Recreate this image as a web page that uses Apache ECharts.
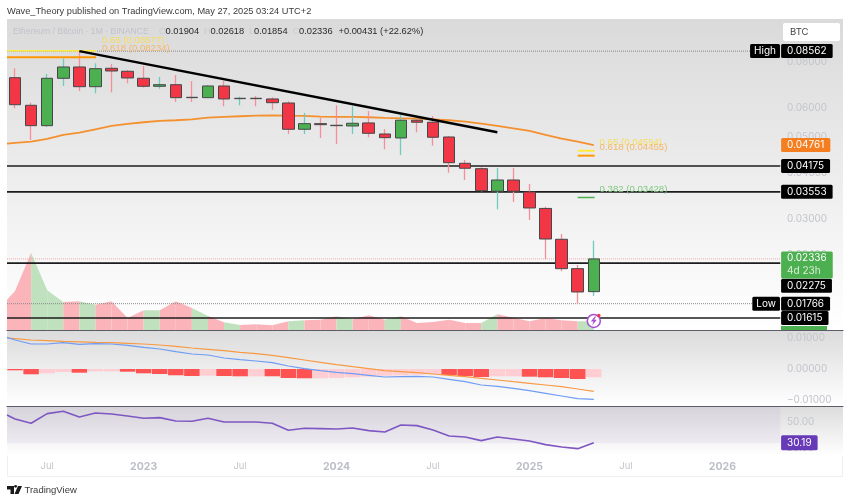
<!DOCTYPE html>
<html><head><meta charset="utf-8">
<style>html,body{margin:0;padding:0;background:#fff}#c{width:850px;height:502px}</style>
<script src="https://cdn.jsdelivr.net/npm/echarts@6/dist/echarts.min.js"></script>
</head><body><div id="c"></div>
<script>
const months = ["2022-05","2022-06","2022-07","2022-08","2022-09","2022-10","2022-11","2022-12","2023-01","2023-02","2023-03","2023-04","2023-05","2023-06","2023-07","2023-08","2023-09","2023-10","2023-11","2023-12","2024-01","2024-02","2024-03","2024-04","2024-05","2024-06","2024-07","2024-08","2024-09","2024-10","2024-11","2024-12","2025-01","2025-02","2025-03","2025-04","2025-05","2025-06","2025-07","2025-08","2025-09","2025-10","2025-11","2025-12","2026-01","2026-02","2026-03","2026-04","2026-05","2026-06","2026-07","2026-08"];
const opens = [.07252,.06103,.05373,.07225,.07754,.06856,.07691,.07548,.07225,.06873,.06941,.06416,.06401,.06886,.06361,.06376,.06349,.06191,.05253,.05441,.05386,.05363,.05465,.05101,.04975,.05558,.05489,.05006,.04247,.04106,.03566,.03826,.03550,.03203,.02641,.02198,.01904];
const closes = [.06126,.05373,.07225,.07754,.06856,.07672,.07562,.07239,.06873,.06941,.06401,.06401,.06886,.06349,.06376,.06361,.06203,.05253,.05441,.05406,.05373,.05454,.05123,.04985,.05558,.05489,.04997,.04263,.04117,.03579,.03826,.03566,.03212,.02646,.02198,.01900,.02336];
const highs = [.07691,.06203,.07422,.08187,.08562,.07935,.0790,.0761,.07802,.07284,.07376,.07104,.06929,.07104,.06440,.06469,.06416,.06258,.05817,.05638,.06103,.06065,.05889,.05253,.05744,.05626,.05709,.05037,.04336,.04142,.04125,.04125,.03732,.03238,.02730,.02250,.02618];
const lows = [.05990,.04914,.05329,.06886,.06674,.06578,.06619,.07003,.06813,.06770,.06230,.06230,.0639,.06065,.06103,.06065,.05938,.05101,.05101,.04975,.04791,.05101,.04997,.04636,.04474,.05156,.04741,.04005,.03826,.03560,.03186,.03335,.02980,.02331,.02162,.01766,.01854];
const ema = [.04822,.04862,.04944,.05069,.05142,.05253,.05363,.05430,.05489,.05533,.05558,.05592,.05648,.05673,.05698,.05719,.05733,.05719,.05709,.05683,.05673,.05673,.05663,.05638,.05626,.05613,.05592,.05558,.05509,.05441,.05363,.05286,.05198,.05069,.04954,.04862,.04761];
const emaStart = .04800;
const volumes = [39,77.3,39.7,28,28.7,25.3,28.7,12,19.7,19.7,28.7,22,14,7.7,5,5.7,4.7,8.7,9.7,10.3,13.7,10.7,14.7,10.3,13.7,7,8,10.3,7,7,15.7,12.3,8.7,12,9.7,8.7,8.7];
const volumeStart = 30.3;
const macdHist = [-.00042,-.00171,-.00139,-.00097,-.00119,-.00074,-.00074,-.00087,-.00139,-.00161,-.00203,-.00226,-.00216,-.00226,-.00235,-.00235,-.00235,-.00290,-.00300,-.00300,-.00290,-.00268,-.00248,-.00216,-.00203,-.00184,-.00161,-.00194,-.00226,-.00258,-.00235,-.00235,-.00248,-.00268,-.00290,-.00323,-.00268];
const macdStrong = [1,1,0,0,1,0,0,1,1,1,1,1,0,1,1,0,1,1,1,0,0,0,0,0,0,0,0,1,1,1,0,0,1,1,1,1,0];
const macdLine = [.00935,.00806,.00806,.00849,.00796,.00817,.00806,.00763,.00699,.00645,.00559,.00484,.00452,.00355,.00301,.00258,.00204,.00097,.00011,-.00054,-.00108,-.00151,-.00204,-.00258,-.00247,-.00237,-.00258,-.00333,-.00409,-.00516,-.00559,-.00624,-.00699,-.00785,-.00871,-.00957,-.00978];
const macdStart = .01021;
const signalLine = [.00978,.00935,.00914,.00892,.00876,.00860,.00849,.00828,.00806,.00774,.00731,.00677,.00634,.00591,.00538,.00495,.00441,.00366,.00290,.00215,.00140,.00075,.00011,-.00054,-.00086,-.00118,-.00161,-.00204,-.00247,-.00301,-.00355,-.00409,-.00462,-.00516,-.00570,-.00645,-.00720];
const signalStart = .01000;
const rsi = [52.86,48.73,57.94,60.16,54.76,58.57,57.62,55.71,53.49,54.13,50.95,50.63,53.49,50,50,50,48.73,42.06,43.97,43.65,43.33,44.29,41.75,40.48,47.14,46.51,42.38,36.67,35.71,32.22,35.71,33.81,31.90,28.41,26.19,24.60,30.19];
const rsiStart = 56.67;
const priceTicks = [.08,.06,.05,.04,.03,.024,.02];
const macdTicks = [.01,0,-.01];
const rsiTicks = [50,25];
const supportLevels = [.04175,.03553,.02275,.01615];
const athLevel = .08562, lowLevel = .01766, lastPrice = .02336, emaLast = .04761;
const fibLeft = [{t:"0.65 (0.08577)",v:.08577},{t:"0.618 (0.08234)",v:.08234}];
const fibRight = [{t:"0.65 (0.04594)",v:.04594},{t:"0.618 (0.04455)",v:.04455},{t:"0.382 (0.03428)",v:.03428}];
const trend = [[4,.08562],[30,.05156]];
const headerText = "Wave_Theory published on TradingView.com, May 27, 2025 03:24 UTC+2";
const symbolText = "Ethereum / Bitcoin · 1M · BINANCE";
const ohlcText = ["0.01904","0.02618","0.01854","0.02336"];
const changeText = "+0.00431 (+22.62%)";

const FONT = '"Liberation Sans", Arial, sans-serif';
const AX = 'Inter, "Liberation Sans", sans-serif';
const L = -0.5, SCALE = 47.6, R = 51.5;
const AXC = '#c3c5cb';
const grad = (a,b)=>({type:'linear',x:0,y:0,x2:0,y2:1,colorStops:[{offset:0,color:a},{offset:1,color:b}]});
const chart = echarts.init(document.getElementById('c'),null,{renderer:'canvas'});

const commonOver = {type:'value',min:L,max:R,show:false,splitLine:{show:false}};
const paneLine = {show:true,onZero:false,lineStyle:{color:'#5c5c66',width:1.2}};
function seg(name,pts,color,width,type,extra){
  return Object.assign({type:'line',name,xAxisIndex:1,yAxisIndex:0,symbol:'none',silent:true,animation:false,z:4,
    lineStyle:{color,width,type:type||'solid'},data:pts},extra||{});
}
function tag(v,text,bg,o){
  o=o||{};
  return {value:[o.left?SCALE-0.02:SCALE+0.05,v],label:Object.assign({show:true,formatter:text,position:o.left?'left':'right',distance:0,
     backgroundColor:bg,color:'#fff',fontFamily:AX,fontSize:o.fs||10,lineHeight:11,padding:o.pad||[1.5,6],borderRadius:1.5},o.label||{})};
}
const series = [];
// volume
series.push({type:'custom',name:'Volume',xAxisIndex:1,yAxisIndex:1,z:1,silent:true,clip:true,animation:false,
  data:volumes.map((v,i)=>[i===0?L:i-1,i===0?volumeStart:volumes[i-1],i,v,closes[i]>=opens[i]?1:0]),
  encode:{x:[0,2],y:[1,3]},
  renderItem:(p,api)=>{
    const x0=api.value(0),v0=api.value(1),x1=api.value(2),v1=api.value(3),up=api.value(4);
    const a=api.coord([x0,0]),b=api.coord([x0,v0]),c=api.coord([x1,v1]),d=api.coord([x1,0]);
    return {type:'polygon',shape:{points:[a,b,c,d]},style:{fill:up?'#bfe1bd':'#fbb4ba'}};
  }});
// horizontal levels
supportLevels.forEach(v=>series.push(seg('Level',[[L,v],[SCALE,v]],'#1c1c1c',1.6)));
series.push(seg('High',[[L,athLevel],[SCALE,athLevel]],'#8a8a8a',1,'dotted'));
series.push(seg('Low',[[L,lowLevel],[SCALE,lowLevel]],'#8a8a8a',1,'dotted'));
series.push(seg('Last',[[L,lastPrice],[SCALE,lastPrice]],'#eeaaaa',1,'dotted'));
// EMA
series.push(seg('EMA',[[L,emaStart]].concat(ema.map((v,i)=>[i,v])),'#f5902f',1.8,null,{z:5}));
// wicks + bodies
series.push({type:'candlestick',name:'Wicks',xAxisIndex:0,yAxisIndex:0,barWidth:1,z:5,silent:true,animation:false,
  itemStyle:{color:'#6fcbbb',color0:'#f78f9a',borderColor:'#6fcbbb',borderColor0:'#f78f9a',borderWidth:1.3},
  data:opens.map((o,i)=>[o,closes[i],lows[i],highs[i]])});
series.push({type:'candlestick',name:'Bodies',xAxisIndex:0,yAxisIndex:0,barWidth:12,z:6,silent:true,animation:false,
  itemStyle:{color:'#4caf50',color0:'#f23645',borderColor:'#45484a',borderColor0:'#45484a',borderWidth:1},
  data:opens.map((o,i)=>[o,closes[i],Math.min(o,closes[i]),Math.max(o,closes[i])])});
// trend
series.push(seg('Trend',trend,'#000',2.5,null,{z:7}));
// fib
const fibColors={"0.65":'#ffeb3b',"0.618":'#ff9800',"0.382":'#4caf50'};
const fibText={"0.65":'#f7dc5c',"0.618":'#f6b868',"0.382":'#7fc981'};
fibLeft.forEach(f=>{const k=f.t.split(' ')[0];
  series.push(seg('Fib',[[L,f.v],[5.04,f.v]],fibColors[k],k==='0.618'?2:1.5,null,{z:6}));});
fibRight.forEach(f=>{const k=f.t.split(' ')[0];
  series.push(seg('Fib',[[35,f.v],[36.05,f.v]],fibColors[k],k==='0.382'?1.5:2,null,{z:6}));});
const fibLabel=(x,f,dist,dy)=>({value:[x,f.v],label:{show:true,position:'right',distance:dist,offset:[0,dy],formatter:f.t,color:fibText[f.t.split(' ')[0]],fontFamily:FONT,fontSize:9.6}});
series.push({type:'scatter',name:'FibLabels',xAxisIndex:1,yAxisIndex:0,symbolSize:0,z:8,silent:true,animation:false,itemStyle:{opacity:1},
  data:[fibLabel(5.04,fibLeft[0],6,-10),fibLabel(5.04,fibLeft[1],6,-9.4)].concat(fibRight.map(f=>fibLabel(36.05,f,5,-8.4)))});
// price tags
series.push({type:'scatter',name:'Tags',xAxisIndex:1,yAxisIndex:0,symbolSize:0,z:10,silent:true,animation:false,clip:false,itemStyle:{opacity:1},
  data:[
    tag(athLevel,'0.08562','#000'),
    tag(athLevel,'High','#000',{left:true,pad:[1.5,4]}),
    tag(emaLast,'0.04761','#f57f20'),
    tag(.04175,'0.04175','#000'),
    tag(.03553,'0.03553','#000'),
    tag(.02275,'0.02275','#000',{label:{offset:[0,22.6]}}),
    tag(lastPrice,'{a|0.02336}\n{b|4d 23h}','#4caf50',{pad:[0,6,1,6],label:{offset:[0,6.2],rich:{a:{color:'#fff',fontFamily:AX,fontSize:10,lineHeight:13},b:{color:'#d7eed8',fontFamily:AX,fontSize:10,lineHeight:13}}}}),
    tag(lowLevel,'0.01766','#000'),
    tag(lowLevel,'Low','#000',{left:true,pad:[1.5,4]}),
    tag(.01615,'0.01615','#000')
  ]});
// news mark
series.push({type:'scatter',name:'Mark',xAxisIndex:1,yAxisIndex:0,z:11,silent:true,animation:false,symbol:'circle',symbolSize:13,
  itemStyle:{color:'#fff',borderColor:'#a84fd0',borderWidth:1.5,opacity:1},data:[[36,.01585]]});
series.push({type:'scatter',name:'Bolt',xAxisIndex:1,yAxisIndex:0,z:12,silent:true,animation:false,symbol:'path://M6 0L0 9h4l-2 7 7-10H5l3-6z',symbolSize:[6,9],
  itemStyle:{color:'#a84fd0',opacity:1},data:[[36,.01585]]});
series.push({type:'scatter',name:'Dot',xAxisIndex:1,yAxisIndex:0,z:13,silent:true,animation:false,symbol:'circle',symbolSize:3.5,symbolOffset:[5,-5.5],
  itemStyle:{color:'#f23645',opacity:1},data:[[36,.01585]]});
// MACD
series.push({type:'bar',name:'Hist',xAxisIndex:2,yAxisIndex:2,barWidth:15.5,z:2,silent:true,animation:false,
  data:macdHist.map((v,i)=>({value:v,itemStyle:{color:macdStrong[i]?'#ff5252':'#ffcdd2'}}))});
series.push({type:'line',name:'Signal',xAxisIndex:3,yAxisIndex:2,symbol:'none',z:3,silent:true,animation:false,lineStyle:{color:'#f79a45',width:1.2},
  data:[[L,signalStart]].concat(signalLine.map((v,i)=>[i,v]))});
series.push({type:'line',name:'MACD',xAxisIndex:3,yAxisIndex:2,symbol:'none',z:3,silent:true,animation:false,lineStyle:{color:'#6f9cf5',width:1.2},
  data:[[L,macdStart]].concat(macdLine.map((v,i)=>[i,v]))});
// RSI
series.push({type:'line',name:'RSI',xAxisIndex:5,yAxisIndex:3,symbol:'none',z:3,silent:true,animation:false,lineStyle:{color:'#7e57c2',width:1.6},
  data:[[L,rsiStart]].concat(rsi.map((v,i)=>[i,v])),
  markArea:{silent:true,itemStyle:{color:'rgba(126,87,194,0.07)'},data:[[{xAxis:L,yAxis:70},{xAxis:SCALE,yAxis:30}]]}});
series.push({type:'scatter',name:'RSITag',xAxisIndex:5,yAxisIndex:3,symbolSize:0,z:10,silent:true,animation:false,clip:false,itemStyle:{opacity:1},
  data:[{value:[SCALE+0.05,rsi[rsi.length-1]],label:{show:true,formatter:rsi[rsi.length-1].toFixed(2),position:'right',distance:0,backgroundColor:'#673ab7',color:'#fff',fontFamily:AX,fontSize:10,lineHeight:11,padding:[2,6],borderRadius:1.5}}]});

const logoDot = {type:'circle',z:21,shape:{cx:15.6,cy:486.3,r:1.4},style:{fill:'#1a1a1a'},silent:true};
const option = {
  backgroundColor:'#fff',animation:false,
  grid:[
    {left:7,width:836,top:19,height:311,show:true,borderWidth:0,backgroundColor:grad('#dadada','#ffffff')},
    {left:7,width:836,top:330,height:76,show:true,borderWidth:0,backgroundColor:grad('#dbdbdb','#ffffff')},
    {left:7,width:836,top:406,height:50,show:true,borderWidth:0,backgroundColor:grad('#dcdcdc','#ffffff')}
  ],
  xAxis:[
    {type:'category',gridIndex:0,data:months,axisLine:paneLine,axisTick:{show:false},axisLabel:{show:false}},
    Object.assign({gridIndex:0},commonOver),
    {type:'category',gridIndex:1,data:months,axisLine:paneLine,axisTick:{show:false},axisLabel:{show:false}},
    Object.assign({gridIndex:1},commonOver),
    {type:'category',gridIndex:2,data:months,axisLine:{show:false},axisTick:{show:false},
      axisLabel:{show:true,margin:5,interval:(i,v)=>i<48&&/-(01|07)$/.test(v),
        formatter:v=>v.endsWith('-01')?`{y|${v.slice(0,4)}}`:`{m|Jul}`,
        rich:{y:{color:'#bcbec6',fontFamily:AX,fontWeight:'bold',fontSize:10.5},m:{color:'#c3c5cb',fontFamily:AX,fontSize:9.5}}}},
    Object.assign({gridIndex:2},commonOver)
  ],
  yAxis:[
    {type:'log',gridIndex:0,position:'right',offset:-63,min:.01498,max:.10466,splitLine:{show:false},axisLine:{show:false},axisTick:{show:false},
      axisLabel:{customValues:priceTicks,color:AXC,fontFamily:AX,fontSize:10,margin:7,formatter:v=>(+v).toFixed(5)}},
    {type:'value',gridIndex:0,min:0,max:311,show:false,splitLine:{show:false}},
    {type:'value',gridIndex:1,position:'right',offset:-63,min:-.01194,max:.01258,splitLine:{show:false},axisLine:{show:false},axisTick:{show:false},
      axisLabel:{customValues:macdTicks,color:AXC,fontFamily:AX,fontSize:10,margin:7,formatter:v=>(+v===0?'0.00000':(+v<0?'\u2212':'')+Math.abs(+v).toFixed(5))}},
    {type:'value',gridIndex:2,position:'right',offset:-63,min:17.6,max:65.2,splitLine:{show:false},axisLine:{show:false},axisTick:{show:false},
      axisLabel:{customValues:rsiTicks,color:AXC,fontFamily:AX,fontSize:10,margin:7,formatter:v=>(+v).toFixed(2)}}
  ],
  series,
  graphic:[
    {type:'rect',z:-1,shape:{x:7.5,y:19.5,width:835,height:457},style:{fill:'none',stroke:'#eeeeee',lineWidth:1},silent:true},
    {type:'rect',z:20,shape:{x:783,y:23,width:57,height:18,r:2},style:{fill:'#fff'},silent:true},
    {type:'text',z:21,style:{x:790,y:32,text:'BTC',fill:'#444',font:'9.5px '+AX,textVerticalAlign:'middle'},silent:true},
    {type:'rect',z:20,shape:{x:781,y:326,width:46,height:4},style:{fill:'#4caf50'},silent:true},
    {type:'text',z:21,style:{x:7,y:11.5,text:headerText,fill:'#3a3a3a',font:'9.25px '+FONT,textVerticalAlign:'middle'},silent:true},
    {type:'text',z:21,style:{x:13,y:31.5,text:symbolText,fill:'#c0c3ca',font:'8.6px '+FONT,textVerticalAlign:'middle'},silent:true},
    ...[[159,'O',165.6],[204,'H',210.6],[249,'L',254],[292.5,'C',299]].map((d,i)=>[
      {type:'text',z:21,style:{x:d[0],y:31.5,text:d[1],fill:'#c9cbd2',font:'9.3px '+FONT,textVerticalAlign:'middle'},silent:true},
      {type:'text',z:21,style:{x:d[2],y:31.5,text:ohlcText[i],fill:'#2a2a2a',font:'9.3px '+FONT,textVerticalAlign:'middle'},silent:true}
    ]).flat(),
    {type:'text',z:21,style:{x:338.5,y:31.5,text:changeText,fill:'#2a2a2a',font:'9.3px '+FONT,textVerticalAlign:'middle'},silent:true},
    {type:'polygon',z:21,shape:{points:[[7,486],[14,486],[14,494],[10.5,494],[10.5,489.5],[7,489.5]]},style:{fill:'#1a1a1a'},silent:true},
    {type:'polygon',z:21,shape:{points:[[18,486],[22,486],[18.5,494],[14.5,494]]},style:{fill:'#1a1a1a'},silent:true},
    logoDot,
    {type:'text',z:21,style:{x:24.5,y:490,text:'TradingView',fill:'#3a3a3a',font:'9.5px '+FONT,textVerticalAlign:'middle'},silent:true}
  ]
};
chart.setOption(option);
</script></body></html>
